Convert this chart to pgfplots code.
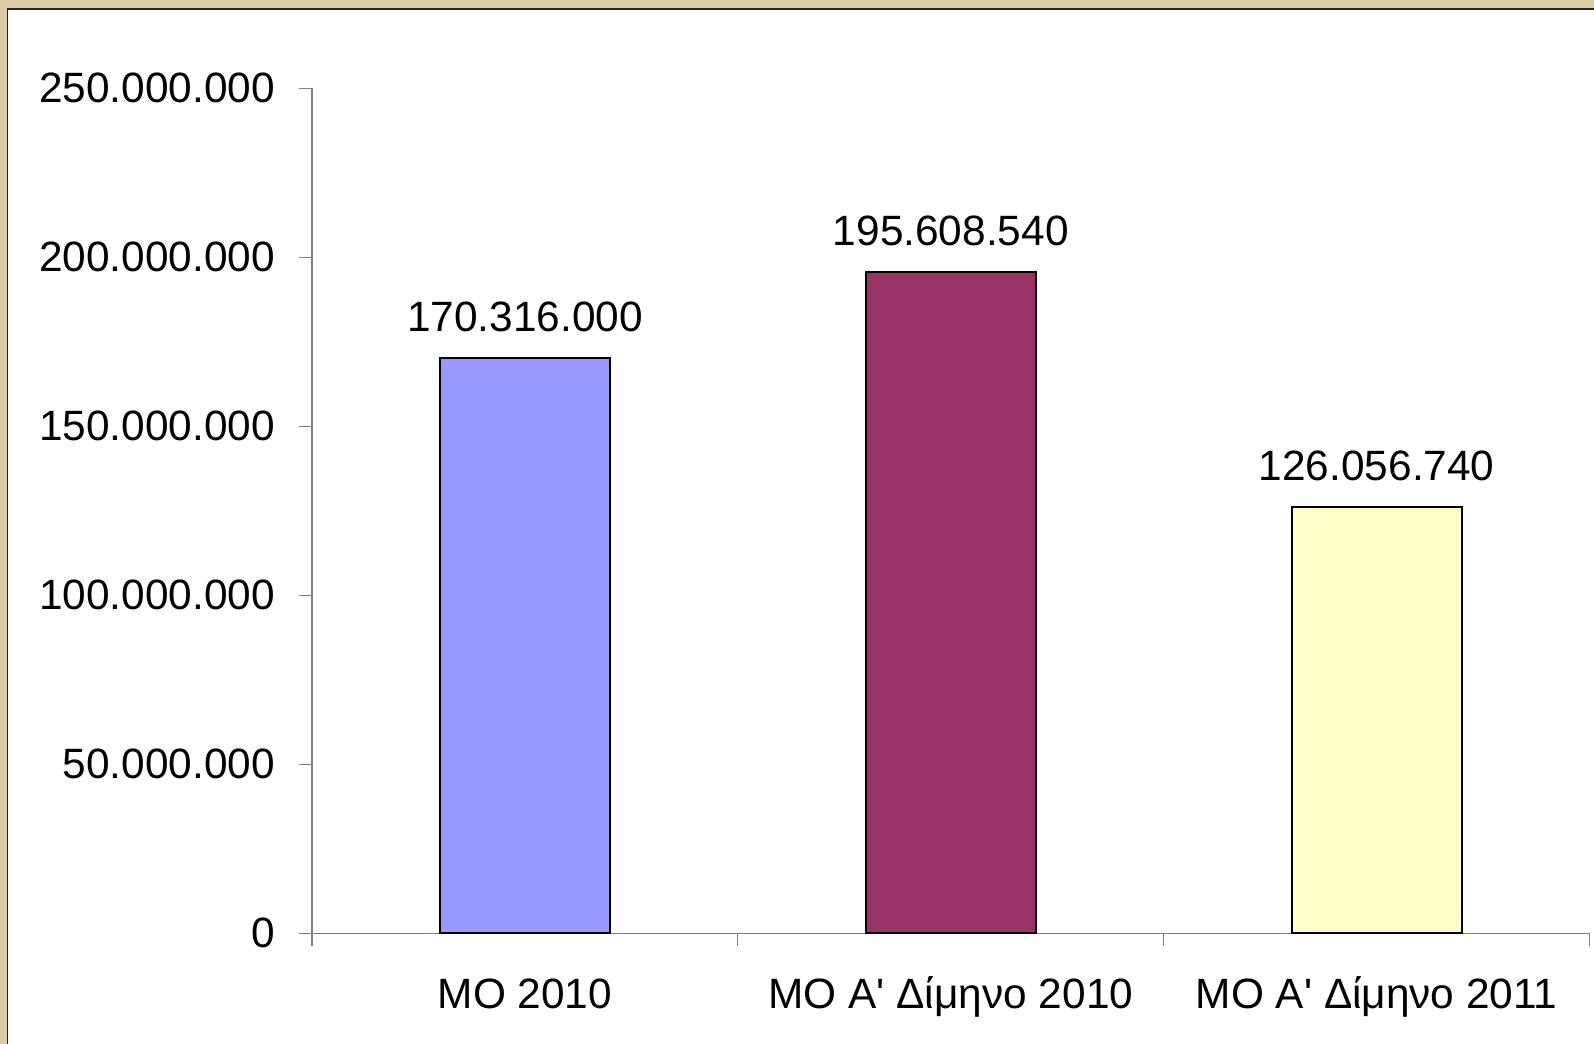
\documentclass[border=0pt]{standalone}
\usepackage{pgfplots}
\pgfplotsset{compat=1.18}
\usepackage{fontspec}
\setmainfont{Liberation Sans}
\definecolor{beige}{RGB}{219,205,168}
\definecolor{barA}{HTML}{9999FF}
\definecolor{barB}{HTML}{993366}
\definecolor{barC}{HTML}{FFFFCC}
\begin{document}
\begin{tikzpicture}[font=\fontsize{21.2bp}{25bp}\selectfont]
\useasboundingbox (0,0) rectangle (797bp,522bp);
\fill[beige] (0,0) rectangle (797bp,522bp);
\filldraw[fill=white, draw=black!85, line width=0.8bp] (3.65bp,-20bp) rectangle (830bp,517.6bp);
\begin{axis}[
  at={(156bp,55.35bp)}, anchor=south west,
  scale only axis, width=638.8bp, height=422.5bp,
  xmin=-0.5, xmax=2.5, ymin=0, ymax=250000000,
  axis lines=left,
  axis line style={draw=gray, line width=0.6bp, -},
  clip=false,
  scaled y ticks=false,
  ybar, bar width=85bp, bar shift=0pt,
  xtick={0,1,2},
  xticklabels={ΜΟ 2010, ΜΟ Α\textquotesingle{} Δίμηνο 2010, ΜΟ Α\textquotesingle{} Δίμηνο 2011},
  minor xtick={-0.5,0.5,1.5,2.5},
  major x tick style={draw=none},
  minor x tick style={draw=gray, line width=0.6bp},
  ytick={0,50000000,100000000,150000000,200000000,250000000},
  yticklabels={0,50.000.000,100.000.000,150.000.000,200.000.000,250.000.000},
  y tick style={draw=gray, line width=0.6bp},
  tick align=outside,
  major tick length=6.5bp, minor tick length=6.5bp,
  xticklabel style={anchor=base, inner sep=0pt, yshift=-30.85bp},
  yticklabel style={anchor=east, inner sep=0pt, xshift=-11.85bp},
  nodes near coords,
  point meta=explicit symbolic,
  every node near coord/.append style={anchor=south, inner sep=0pt, yshift=12.5bp, black},
]
\addplot[fill=barA, draw=black, line width=1bp] coordinates {(0,170316000) [170.316.000]};
\addplot[fill=barB, draw=black, line width=1bp] coordinates {(1,195608540) [195.608.540]};
\addplot[fill=barC, draw=black, line width=1bp] coordinates {(2,126056740) [126.056.740]};
\end{axis}
\end{tikzpicture}
\end{document}
